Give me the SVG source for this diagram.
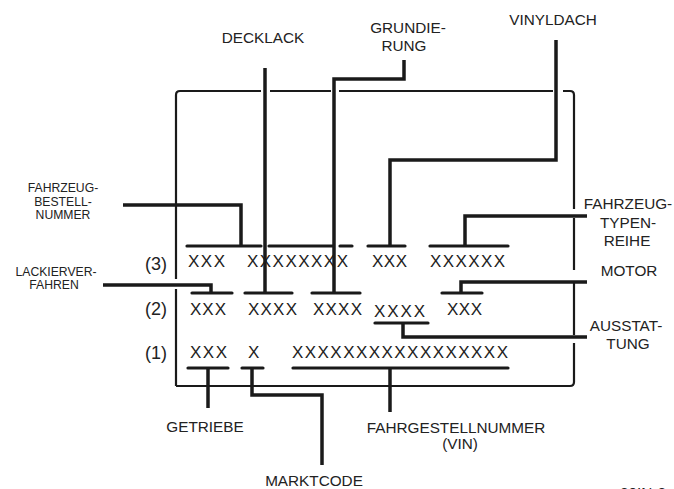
<svg xmlns="http://www.w3.org/2000/svg" width="674" height="489" viewBox="0 0 674 489">
<style>
  .frame{fill:none;stroke:#1a1a1a;stroke-width:2.2;stroke-linejoin:round}
  .lead{fill:none;stroke:#1a1a1a;stroke-width:3.5;stroke-linejoin:miter}
  .bar{fill:none;stroke:#1a1a1a;stroke-width:3.2;stroke-linecap:round}
  .lbl{font-family:"Liberation Sans",Arial,sans-serif;font-size:15.3px;fill:#222;text-anchor:middle}
  .lbls{font-family:"Liberation Sans",Arial,sans-serif;font-size:12.2px;fill:#222;text-anchor:middle}
  .xx{font-family:"Liberation Sans",Arial,sans-serif;font-size:17px;fill:#222}
  .row{font-family:"Liberation Sans",Arial,sans-serif;font-size:18px;fill:#222}
</style>
<rect width="674" height="489" fill="#fff"/>

<g id="frame">
  <path class="frame" d="M176,386 V289 M176,279 V95 Q176,91 180,91 H261 M270,91 H331 M339,91 H553 M563,91 H570 Q574,91 574,95 V209 M574,218 V270 M574,283 V335 M574,343 V382 Q574,386 570,386 H176"/>
</g>

<g id="rows">
  <text class="row" x="145" y="270">(3)</text>
  <text class="row" x="145" y="315">(2)</text>
  <text class="row" x="145" y="359">(1)</text>
  <text class="xx" x="188" y="267" textLength="37" lengthAdjust="spacing">XXX</text>
  <text class="xx" x="247" y="267" textLength="101" lengthAdjust="spacing">XXXXXXXX</text>
  <text class="xx" x="372" y="267" textLength="35" lengthAdjust="spacing">XXX</text>
  <text class="xx" x="430" y="267" textLength="75" lengthAdjust="spacing">XXXXXX</text>
  <text class="xx" x="190" y="315" textLength="36" lengthAdjust="spacing">XXX</text>
  <text class="xx" x="248" y="315" textLength="49" lengthAdjust="spacing">XXXX</text>
  <text class="xx" x="313" y="315" textLength="49" lengthAdjust="spacing">XXXX</text>
  <text class="xx" x="374" y="317" textLength="51" lengthAdjust="spacing">XXXX</text>
  <text class="xx" x="447" y="315" textLength="35" lengthAdjust="spacing">XXX</text>
  <text class="xx" x="190" y="358" textLength="37" lengthAdjust="spacing">XXX</text>
  <text class="xx" x="248" y="358">X</text>
  <text class="xx" x="292" y="358" textLength="216" lengthAdjust="spacing">XXXXXXXXXXXXXXXXX</text>
</g>

<g id="bars">
  <path class="bar" d="M187,246 H261 M269,246 H333 M340,246 H352 M368,246 H405 M430,246 H508"/>
  <path class="bar" d="M192,293 H232 M245,293 H292 M312,293 H360 M442,293 H482"/>
  <path class="bar" d="M375,323 H428"/>
  <path class="bar" d="M188,368 H228 M242,368 H263 M293,368 H508"/>
</g>

<g id="connectors">
  <path class="lead" d="M265,68 V293"/>
  <path class="lead" d="M404,60 V79 H334 V293"/>
  <path class="lead" d="M556,40 V160 H390 V246"/>
  <path class="lead" d="M123,205 H241 V246"/>
  <path class="lead" d="M587,216 H465 V246"/>
  <path class="lead" d="M103,285 H211 V293"/>
  <path class="lead" d="M587,282 H461 V293"/>
  <path class="lead" d="M587,337 H403 V323"/>
  <path class="lead" d="M208,368 V408"/>
  <path class="lead" d="M252,368 V395 H322 V465"/>
  <path class="lead" d="M390,368 V412"/>
</g>

<g id="decklack"><text class="lbl" x="263" y="43">DECKLACK</text></g>
<g id="grundierung"><text class="lbl" x="408" y="33">GRUNDIE-</text><text class="lbl" x="404" y="51">RUNG</text></g>
<g id="vinyldach"><text class="lbl" x="553" y="25">VINYLDACH</text></g>
<g id="bestellnummer"><text class="lbls" x="63" y="192">FAHRZEUG-</text><text class="lbls" x="63" y="205.5">BESTELL-</text><text class="lbls" x="63" y="219">NUMMER</text></g>
<g id="lackierverfahren"><text class="lbls" x="56" y="275.5">LACKIERVER-</text><text class="lbls" x="54" y="288.5">FAHREN</text></g>
<g id="typenreihe"><text class="lbl" x="628" y="209">FAHRZEUG-</text><text class="lbl" x="628" y="228">TYPEN-</text><text class="lbl" x="627" y="246">REIHE</text></g>
<g id="motor"><text class="lbl" x="629" y="276">MOTOR</text></g>
<g id="ausstattung"><text class="lbl" x="626" y="331">AUSSTAT-</text><text class="lbl" x="628" y="349">TUNG</text></g>
<g id="getriebe"><text class="lbl" x="205" y="432">GETRIEBE</text></g>
<g id="fahrgestellnummer"><text class="lbl" x="456" y="433">FAHRGESTELLNUMMER</text><text class="lbl" x="460" y="449">(VIN)</text></g>
<g id="marktcode"><text class="lbl" x="314" y="486">MARKTCODE</text></g>
<text class="lbl" x="643" y="498">20IN-2</text>
</svg>
